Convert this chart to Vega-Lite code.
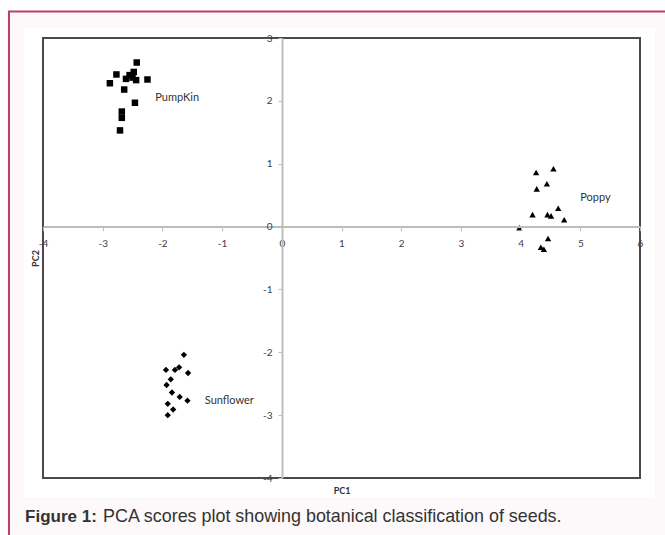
{
  "$schema": "https://vega.github.io/schema/vega-lite/v6.json",
  "width": 597,
  "height": 440,
  "autosize": {"type": "none"},
  "padding": {"left": 43, "top": 38, "right": 25, "bottom": 57},
  "background": "white",
  "config": {
    "view": {"stroke": null},
    "font": "Lato"
  },
  "datasets": {
    "points": [
      {"seed": "Pumpkin", "pc1": -2.43, "pc2": 2.61},
      {"seed": "Pumpkin", "pc1": -2.77, "pc2": 2.42},
      {"seed": "Pumpkin", "pc1": -2.88, "pc2": 2.28},
      {"seed": "Pumpkin", "pc1": -2.48, "pc2": 2.46},
      {"seed": "Pumpkin", "pc1": -2.55, "pc2": 2.41},
      {"seed": "Pumpkin", "pc1": -2.61, "pc2": 2.35},
      {"seed": "Pumpkin", "pc1": -2.44, "pc2": 2.33},
      {"seed": "Pumpkin", "pc1": -2.50, "pc2": 2.37},
      {"seed": "Pumpkin", "pc1": -2.25, "pc2": 2.34},
      {"seed": "Pumpkin", "pc1": -2.64, "pc2": 2.18},
      {"seed": "Pumpkin", "pc1": -2.46, "pc2": 1.97},
      {"seed": "Pumpkin", "pc1": -2.68, "pc2": 1.83},
      {"seed": "Pumpkin", "pc1": -2.68, "pc2": 1.73},
      {"seed": "Pumpkin", "pc1": -2.71, "pc2": 1.53},
      {"seed": "Poppy", "pc1": 4.26, "pc2": 0.86},
      {"seed": "Poppy", "pc1": 4.55, "pc2": 0.92},
      {"seed": "Poppy", "pc1": 4.44, "pc2": 0.68},
      {"seed": "Poppy", "pc1": 4.27, "pc2": 0.60},
      {"seed": "Poppy", "pc1": 4.63, "pc2": 0.29},
      {"seed": "Poppy", "pc1": 4.20, "pc2": 0.19},
      {"seed": "Poppy", "pc1": 4.45, "pc2": 0.19},
      {"seed": "Poppy", "pc1": 4.51, "pc2": 0.17},
      {"seed": "Poppy", "pc1": 4.73, "pc2": 0.11},
      {"seed": "Poppy", "pc1": 3.98, "pc2": -0.02},
      {"seed": "Poppy", "pc1": 4.46, "pc2": -0.19},
      {"seed": "Poppy", "pc1": 4.34, "pc2": -0.33},
      {"seed": "Poppy", "pc1": 4.39, "pc2": -0.36},
      {"seed": "Sunflower", "pc1": -1.64, "pc2": -2.04},
      {"seed": "Sunflower", "pc1": -1.94, "pc2": -2.28},
      {"seed": "Sunflower", "pc1": -1.79, "pc2": -2.28},
      {"seed": "Sunflower", "pc1": -1.72, "pc2": -2.24},
      {"seed": "Sunflower", "pc1": -1.57, "pc2": -2.33},
      {"seed": "Sunflower", "pc1": -1.86, "pc2": -2.43},
      {"seed": "Sunflower", "pc1": -1.93, "pc2": -2.52},
      {"seed": "Sunflower", "pc1": -1.84, "pc2": -2.64},
      {"seed": "Sunflower", "pc1": -1.71, "pc2": -2.71},
      {"seed": "Sunflower", "pc1": -1.58, "pc2": -2.77},
      {"seed": "Sunflower", "pc1": -1.91, "pc2": -2.82},
      {"seed": "Sunflower", "pc1": -1.82, "pc2": -2.91},
      {"seed": "Sunflower", "pc1": -1.91, "pc2": -3.00}
    ],
    "labels": [
      {"label": "PumpKin", "pc1": -2.12, "pc2": 2.05},
      {"label": "Poppy", "pc1": 5.0, "pc2": 0.45},
      {"label": "Sunflower", "pc1": -1.29, "pc2": -2.77}
    ],
    "one": [{}]
  },
  "layer": [
    {
      "data": {"name": "one"},
      "mark": {"type": "rect", "fill": "#fdf8f9", "stroke": "#c23d66", "strokeWidth": 2, "clip": false},
      "encoding": {
        "x": {"datum": -4.57, "type": "quantitative", "title": "PC1"},
        "x2": {"datum": 7.5},
        "y": {"datum": 3.42, "type": "quantitative", "title": "PC2"},
        "y2": {"datum": -6}
      }
    },
    {
      "data": {"name": "one"},
      "mark": {"type": "rect", "fill": "white", "clip": false},
      "encoding": {
        "x": {"datum": -4.318, "type": "quantitative", "title": "PC1"},
        "x2": {"datum": 6.251},
        "y": {"datum": 3.159, "type": "quantitative", "title": "PC2"},
        "y2": {"datum": -4.302}
      }
    },
    {
      "data": {"name": "points"},
      "mark": {"type": "point", "filled": true, "opacity": 1},
      "encoding": {
        "x": {
          "field": "pc1", "type": "quantitative", "title": "PC1",
          "scale": {"domain": [-4, 6], "nice": false, "zero": false},
          "axis": {
            "values": [-4, -3, -2, -1, 0, 1, 2, 3, 4, 5, 6],
            "labelExpr": "'' + datum.value",
            "offset": -251.4,
            "zindex": 1,
            "grid": false,
            "domainColor": "#bdbdbd", "domainWidth": 2,
            "tickColor": "#bdbdbd", "tickSize": 4, "tickWidth": 1,
            "labelFont": "Lato", "labelFontSize": 10, "labelColor": "#404040",
            "labelPadding": 8, "labelFlush": false, "labelOverlap": false, "labelBound": false,
            "titleFont": "Lato", "titleFontSize": 9, "titleFontWeight": "bold", "titleColor": "#333333",
            "titleY": 264, "titleBaseline": "middle"
          }
        },
        "y": {
          "field": "pc2", "type": "quantitative", "title": "PC2",
          "scale": {"domain": [-4, 3], "nice": false, "zero": false},
          "axis": {
            "values": [-4, -3, -2, -1, 0, 1, 2, 3],
            "labelExpr": "'' + datum.value",
            "offset": -239,
            "zindex": 1,
            "grid": false,
            "domainColor": "#bdbdbd", "domainWidth": 2,
            "tickColor": "#bdbdbd", "tickSize": 4, "tickWidth": 1,
            "labelFont": "Lato", "labelFontSize": 10, "labelColor": "#404040",
            "labelPadding": 6, "labelFlush": false, "labelOverlap": false, "labelBound": false,
            "titleFont": "Lato", "titleFontSize": 9, "titleFontWeight": "bold", "titleColor": "#333333",
            "titleX": -247, "titleY": 220, "titleAngle": -90, "titleBaseline": "middle", "titleAlign": "center"
          }
        },
        "shape": {
          "field": "seed", "type": "nominal",
          "scale": {"domain": ["Pumpkin", "Poppy", "Sunflower"], "range": ["square", "triangle-up", "diamond"]},
          "legend": null
        },
        "size": {
          "field": "seed", "type": "nominal",
          "scale": {"domain": ["Pumpkin", "Poppy", "Sunflower"], "range": [42, 40, 28]},
          "legend": null
        },
        "color": {"value": "black"}
      }
    },
    {
      "data": {"name": "labels"},
      "mark": {"type": "text", "align": "left", "baseline": "middle", "font": "Lato", "fontSize": 11, "color": "#333333"},
      "encoding": {
        "x": {"field": "pc1", "type": "quantitative", "title": "PC1"},
        "y": {"field": "pc2", "type": "quantitative", "title": "PC2"},
        "text": {"field": "label"}
      }
    },
    {
      "data": {"name": "one"},
      "mark": {"type": "rect", "fill": null, "stroke": "#4a4a4a", "strokeWidth": 2, "clip": false},
      "encoding": {
        "x": {"datum": -4, "type": "quantitative", "title": "PC1"},
        "x2": {"datum": 6},
        "y": {"datum": 3, "type": "quantitative", "title": "PC2"},
        "y2": {"datum": -4}
      }
    },
    {
      "data": {"name": "one"},
      "mark": {"type": "text", "align": "left", "baseline": "middle", "font": "Liberation Sans", "fontSize": 17, "fontWeight": "bold", "color": "#333333", "clip": false},
      "encoding": {
        "x": {"datum": -4.30, "type": "quantitative", "title": "PC1"},
        "y": {"datum": -4.62, "type": "quantitative", "title": "PC2"},
        "text": {"value": "Figure 1:"}
      }
    },
    {
      "data": {"name": "one"},
      "mark": {"type": "text", "align": "left", "baseline": "middle", "font": "Liberation Sans", "fontSize": 17.9, "color": "#333333", "clip": false, "dx": 78},
      "encoding": {
        "x": {"datum": -4.30, "type": "quantitative", "title": "PC1"},
        "y": {"datum": -4.62, "type": "quantitative", "title": "PC2"},
        "text": {"value": "PCA scores plot showing botanical classification of seeds."}
      }
    }
  ]
}
